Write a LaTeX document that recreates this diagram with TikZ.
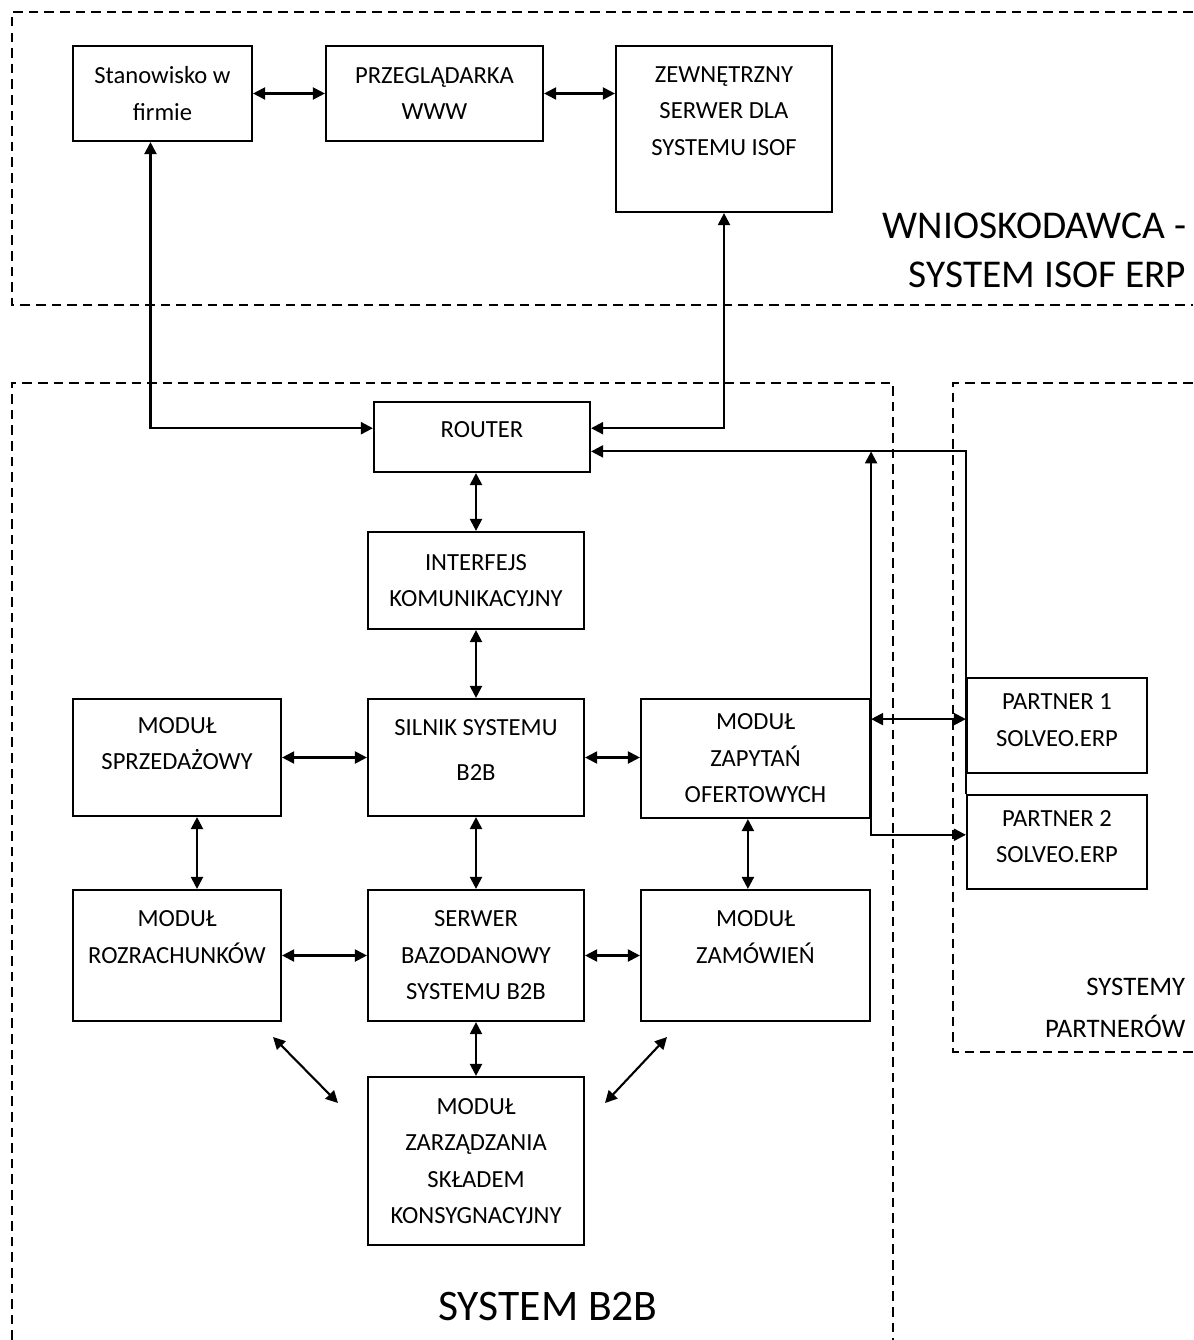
\documentclass[tikz,border=0pt]{standalone}
\usepackage{fontspec}
\setmainfont{Carlito}
\usetikzlibrary{arrows.meta}

\begin{document}
\begin{tikzpicture}[x=0.025cm, y=-0.025cm, line width=1.5pt,
        >={Triangle[length=0.3cm, width=0.3cm]},
        blok/.style={draw, align=center, inner sep=0pt,
            font=\fontsize{17.5}{26}\selectfont},
        granica/.style={line width=1.3pt, dash pattern=on 0.24cm off 0.15cm}]
    \useasboundingbox (0, 0) rectangle (1193, 1340);

    \draw[granica] (1193, 12) -- (12, 12) -- (12, 305) -- (1193, 305);
    \draw[granica] (12, 1340) -- (12, 383) -- (893, 383) -- (893, 1340);
    \draw[granica] (1193, 383) -- (953, 383) -- (953, 1052) -- (1193, 1052);

    \node[blok, minimum width=4.475cm, minimum height=2.375cm] (stan) at (162.5, 93.5) {Stanowisko w\\firmie};
    \node[blok, minimum width=5.425cm, minimum height=2.375cm] (przeg) at (434.5, 93.5) {PRZEGLĄDARKA\\WWW};
    \node[blok, minimum width=5.4cm, minimum height=4.15cm] (zew) at (724, 129) {ZEWNĘTRZNY\\SERWER DLA\\SYSTEMU ISOF\\~};
    \node[blok, minimum width=5.4cm, minimum height=1.75cm] (router) at (482, 437) {ROUTER\\[-16pt]~};
    \node[blok, minimum width=5.4cm, minimum height=2.425cm] (interf) at (476, 580.5) {INTERFEJS\\KOMUNIKACYJNY};
    \node[blok, minimum width=5.2cm, minimum height=2.925cm] (sprzed) at (177, 757.5) {MODUŁ\\SPRZEDAŻOWY\\[-6pt]~};
    \node[blok, minimum width=5.4cm, minimum height=2.925cm] (silnik) at (476, 757.5) {SILNIK SYSTEMU\\[6pt]B2B\\[-16pt]~};
    \node[blok, minimum width=5.725cm, minimum height=2.975cm] (zapyt) at (755.5, 758.5) {MODUŁ\\ZAPYTAŃ\\OFERTOWYCH};
    \node[blok, minimum width=5.2cm, minimum height=3.275cm] (rozr) at (177, 955.5) {MODUŁ\\ROZRACHUNKÓW\\~};
    \node[blok, minimum width=5.4cm, minimum height=3.275cm] (serwer) at (476, 955.5) {SERWER\\BAZODANOWY\\SYSTEMU B2B};
    \node[blok, minimum width=5.725cm, minimum height=3.275cm] (zamow) at (755.5, 955.5) {MODUŁ\\ZAMÓWIEŃ\\~};
    \node[blok, minimum width=5.4cm, minimum height=4.2cm] (zarz) at (476, 1161) {MODUŁ\\ZARZĄDZANIA\\SKŁADEM\\KONSYGNACYJNY};
    \node[blok, minimum width=4.5cm, minimum height=2.375cm] (part1) at (1057, 725.5) {PARTNER 1\\SOLVEO.ERP\\[-18pt]~};
    \node[blok, minimum width=4.5cm, minimum height=2.35cm] (part2) at (1057, 842) {PARTNER 2\\SOLVEO.ERP\\[-18pt]~};

    \node[align=right, anchor=east, font=\fontsize{28}{35}\selectfont] (wniosk) at (1192, 250) {WNIOSKODAWCA -\\SYSTEM ISOF ERP};
    \node[align=right, anchor=east, font=\fontsize{19}{30}\selectfont] (partnerzy) at (1191, 1008) {SYSTEMY\\PARTNERÓW};
    \node[font=\fontsize{31}{36}\selectfont] (b2b) at (548, 1306) {SYSTEM B2B};

    \coordinate (dl1) at (273, 1037);
    \coordinate (dl2) at (338, 1103);
    \coordinate (dr1) at (667, 1037);
    \coordinate (dr2) at (605, 1103);
    \coordinate (wez) at ([yshift=-0.36cm]router.east -| zapyt.east);

    \draw[<->] (stan.east) -- (przeg.west);
    \draw[<->] (przeg.east) -- (przeg.east -| zew.west);
    \draw[<->] ([xshift=-0.3cm]stan.south) |- ([yshift=0.22cm]router.west);
    \draw[<->] (zew.south) |- ([yshift=0.22cm]router.east);
    \draw[<->] (interf.north) -- (interf.north |- router.south);
    \draw[<->] (interf.south) -- (silnik.north);
    \draw[<->] (sprzed.east) -- (silnik.west);
    \draw[<->] (silnik.east) -- (silnik.east -| zapyt.west);
    \draw[<->] ([xshift=0.5cm]sprzed.south) -- ([xshift=0.5cm]rozr.north);
    \draw[<->] (silnik.south) -- (serwer.north);
    \draw[<->] ([xshift=-0.19cm]zapyt.south) -- ([xshift=-0.19cm]zamow.north);
    \draw[<->] (rozr.east) -- (serwer.west);
    \draw[<->] (serwer.east) -- (zamow.west);
    \draw[<->] (serwer.south) -- (zarz.north);
    \draw[<->] (dl1) -- (dl2);
    \draw[<->] (dr1) -- (dr2);
    \draw[->] (part2.north west) |- ([yshift=-0.36cm]router.east);
    \draw[<->] (wez) |- ([yshift=0.18cm]part2.west);
    \draw[<->] ([yshift=0.16cm]part1.west -| zapyt.east) -- ([yshift=0.16cm]part1.west);
\end{tikzpicture}
\end{document}
